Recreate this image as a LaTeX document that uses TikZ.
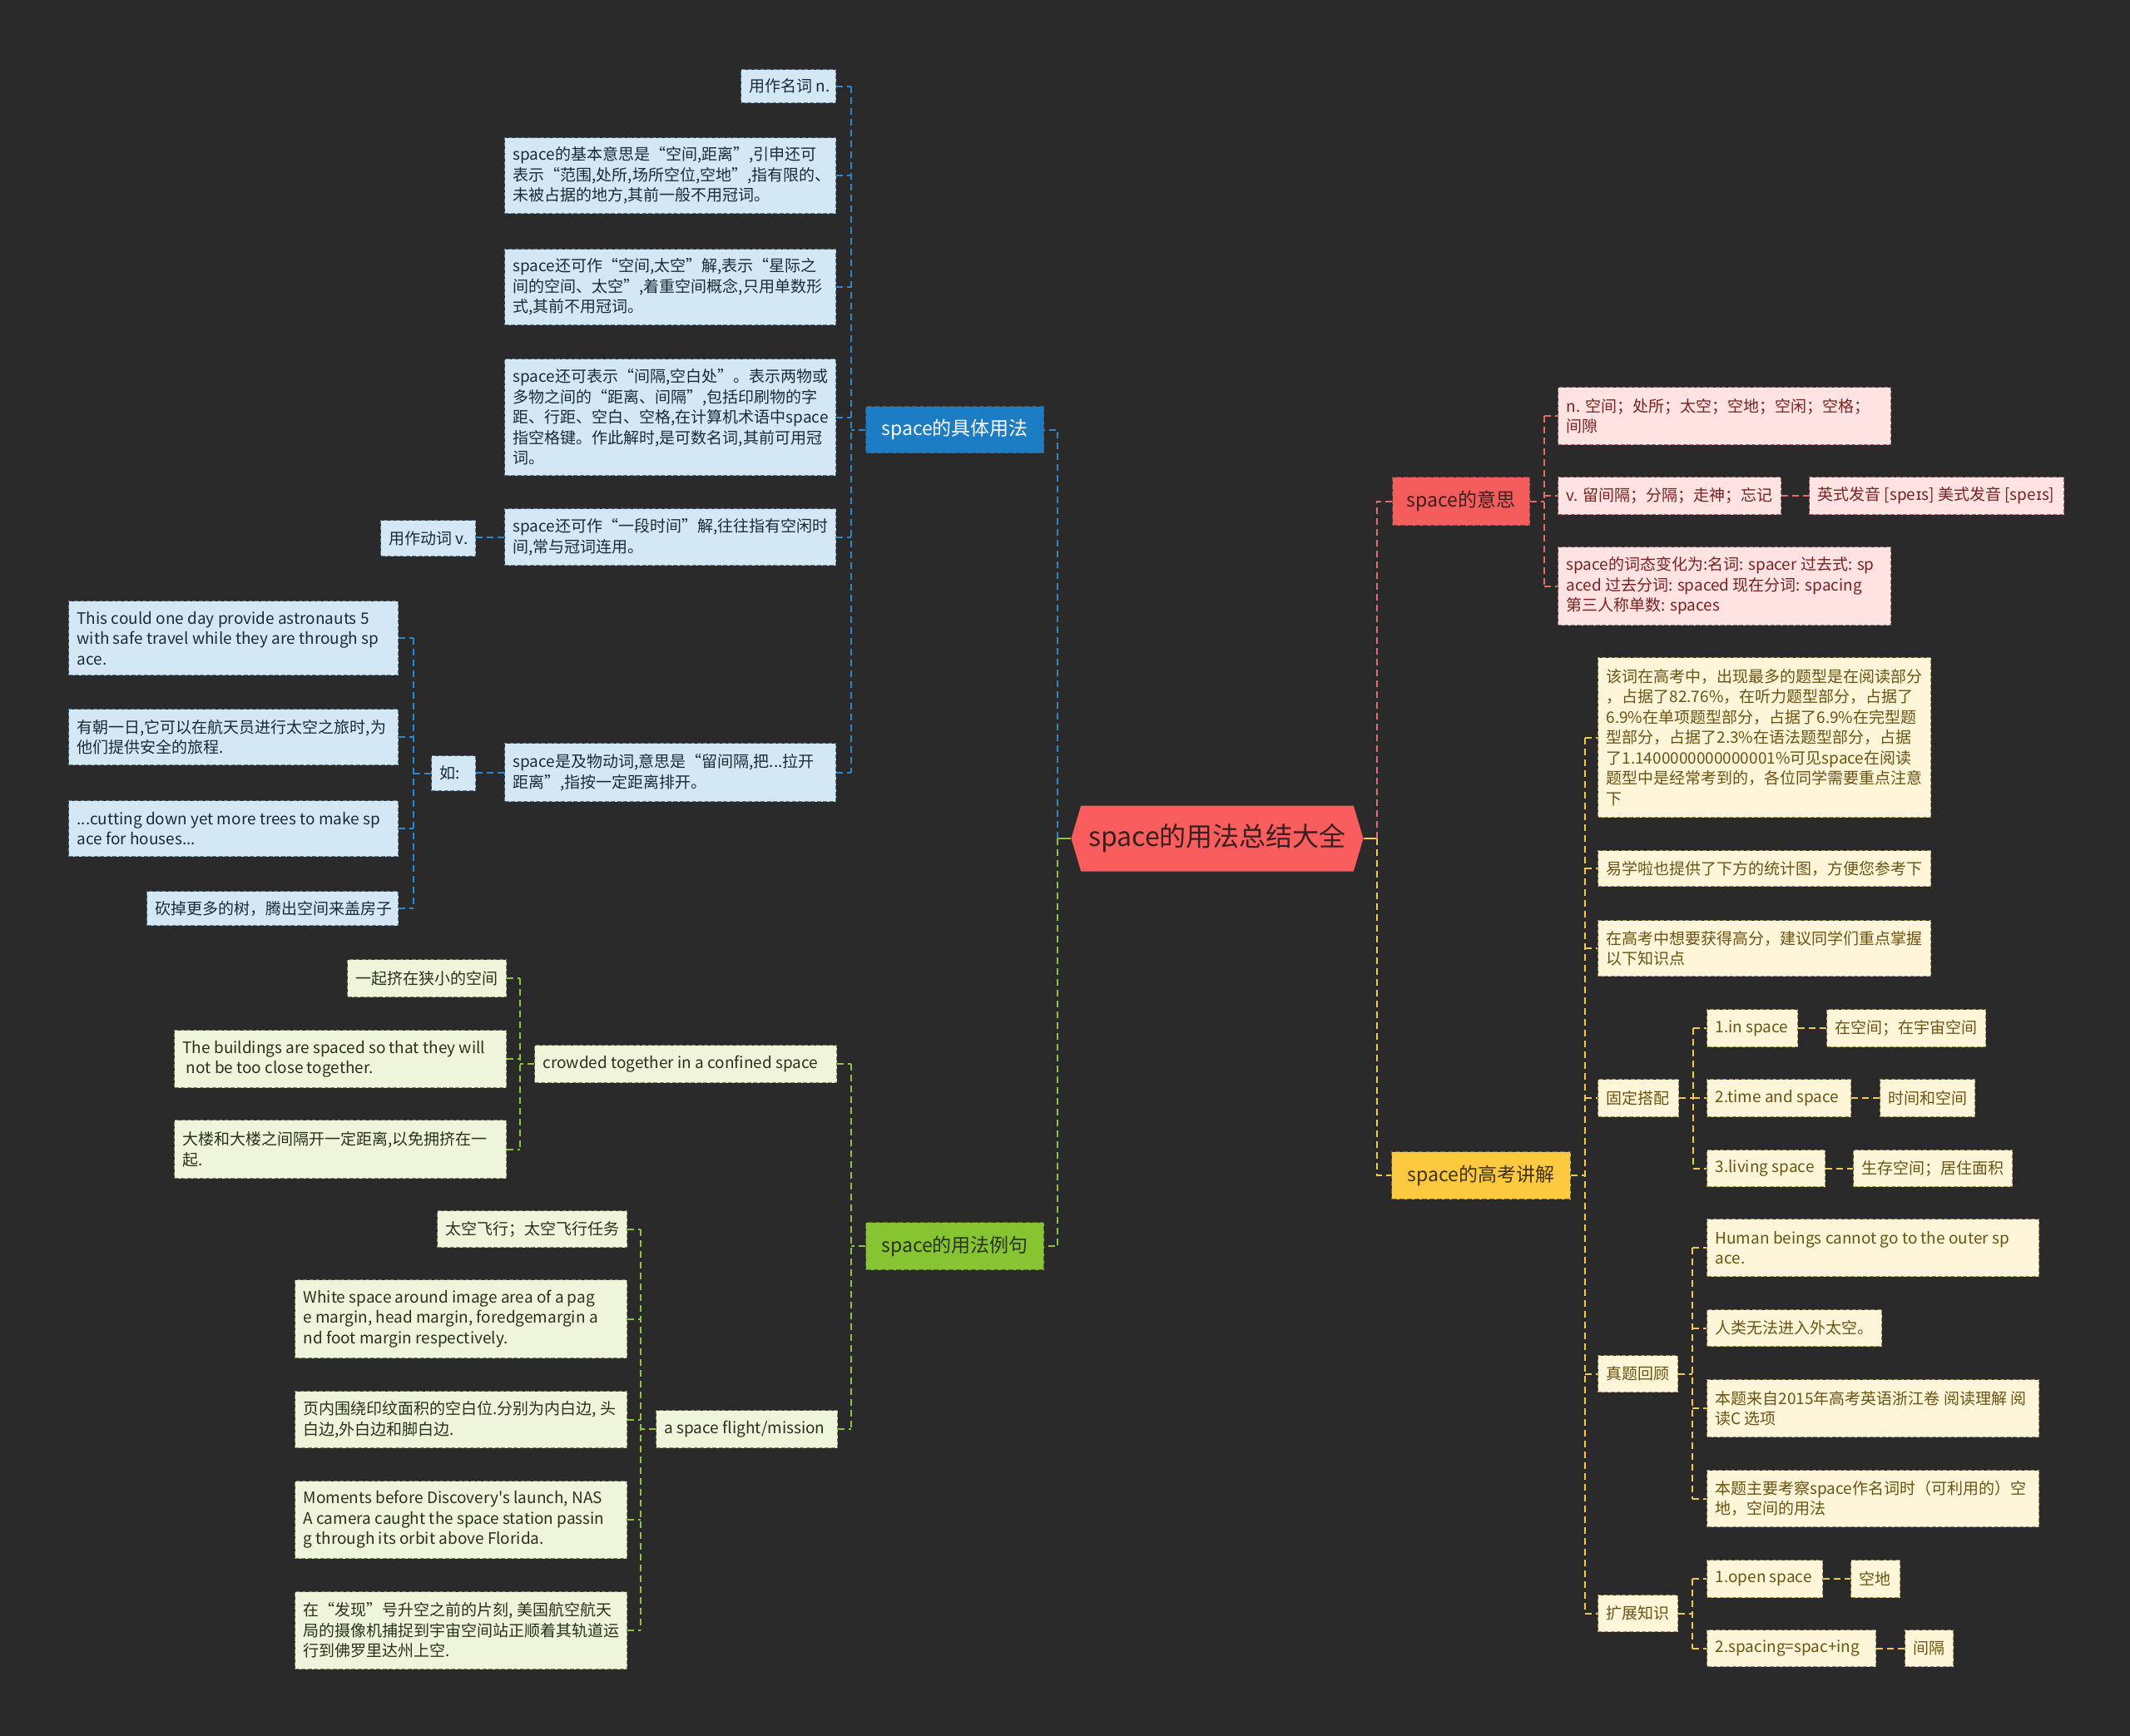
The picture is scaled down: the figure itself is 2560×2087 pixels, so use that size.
\documentclass[tikz,border=0pt]{standalone}
\usepackage{fontspec}
\setmainfont{Noto Sans CJK SC}
\newfontfamily\ipafont{DejaVu Sans}
\usetikzlibrary{shapes.symbols, calc}
\definecolor{mapBg}{HTML}{2A2A2A}
\definecolor{rootF}{HTML}{F95D5D}
\definecolor{rootT}{HTML}{3A1F1F}
\definecolor{blueM}{HTML}{1C7CC4}
\definecolor{blueL}{HTML}{D4E7F4}
\definecolor{blueS}{HTML}{5A7E96}
\definecolor{blueT}{HTML}{1C2A36}
\definecolor{blueC}{HTML}{2B88CC}
\definecolor{greenM}{HTML}{86C431}
\definecolor{greenL}{HTML}{EEF5DB}
\definecolor{greenS}{HTML}{7A8960}
\definecolor{greenT}{HTML}{28321C}
\definecolor{greenC}{HTML}{8CC63F}
\definecolor{redM}{HTML}{F55C5C}
\definecolor{redL}{HTML}{FFE2E2}
\definecolor{redS}{HTML}{A06A6A}
\definecolor{redT}{HTML}{7A2222}
\definecolor{redC}{HTML}{E56B6B}
\definecolor{yelM}{HTML}{FDC93F}
\definecolor{yelL}{HTML}{FFF6DA}
\definecolor{yelS}{HTML}{A08C55}
\definecolor{yelT}{HTML}{6B5313}
\definecolor{yelC}{HTML}{F3C94A}
\tikzset{
  rootbox/.style={signal, signal to=west and east, signal pointer angle=147,
    fill=rootF, text=rootT, font=\fontsize{32}{38}\selectfont,
    minimum width=351, minimum height=79, inner sep=4pt},
  mainbox/.style={anchor=north west, align=center, inner sep=10pt,
    line width=1.4pt, dash pattern=on 6pt off 3pt,
    font=\fontsize{23}{28}\selectfont},
  leafbox/.style={anchor=north west, align=flush left, inner ysep=9pt,
    inner xsep=0pt, line width=1.2pt, dash pattern=on 5pt off 2.5pt,
    font=\fontsize{19}{24.5}\selectfont,
    execute at begin node={\leftskip=10pt\rightskip=-20pt plus 1fil\relax}},
  wh/.style 2 args={minimum width=#1, minimum height=#2},
  lw/.style 2 args={minimum width=#1, minimum height=#2, text width=#1},
  bmain/.style={mainbox, fill=blueM, draw=blueS!70!black, text=white},
  gmain/.style={mainbox, fill=greenM, draw=greenS!70!black, text=greenT},
  rmain/.style={mainbox, fill=redM, draw=redS!70!black, text=rootT},
  ymain/.style={mainbox, fill=yelM, draw=yelS!70!black, text=yelT!60!black},
  bleaf/.style={leafbox, fill=blueL, draw=blueS, text=blueT},
  gleaf/.style={leafbox, fill=greenL, draw=greenS, text=greenT},
  rleaf/.style={leafbox, fill=redL, draw=redS, text=redT},
  yleaf/.style={leafbox, fill=yelL, draw=yelS, text=yelT},
  link/.style={line width=2pt, dash pattern=on 8pt off 5pt},
  bline/.style={link, draw=blueC},
  gline/.style={link, draw=greenC},
  rline/.style={link, draw=redC},
  yline/.style={link, draw=yelC},
}

\begin{document}
\begin{tikzpicture}[x=1pt, y=-1pt]
  \fill[mapBg] (0,0) rectangle (2560,2087);
  \useasboundingbox (0,0) rectangle (2560,2087);

  % ---- Root --------------------------------------------------------------
  \node[rootbox] (root) at (1463,1008) {space的用法总结大全};
  \coordinate (lbus) at ($(root.west)+(-16,0)$);
  \coordinate (rbus) at ($(root.east)+(16,0)$);

  % ---- space的具体用法 ----------------------------------------------------
  \node[bmain, wh={214}{56}] (use) at (1040,488) {space的具体用法};
  \node[bleaf, lw={114}{40}] (u1) at (890,83) {用作名词 n.};
  \node[bleaf, lw={398}{91}] (u2) at (606,165)
    {space的基本意思是“空间,距离”,引申还可\\表示“范围,处所,场所空位,空地”,指有限的、\\未被占据的地方,其前一般不用冠词。};
  \node[bleaf, lw={398}{91}] (u3) at (606,299)
    {space还可作“空间,太空”解,表示“星际之\\间的空间、太空”,着重空间概念,只用单数形\\式,其前不用冠词。};
  \node[bleaf, lw={398}{140}] (u4) at (606,431)
    {space还可表示“间隔,空白处”。表示两物或\\多物之间的“距离、间隔”,包括印刷物的字\\距、行距、空白、空格,在计算机术语中space\\指空格键。作此解时,是可数名词,其前可用冠\\词。};
  \node[bleaf, lw={398}{68}] (u5) at (606,611)
    {space还可作“一段时间”解,往往指有空闲时\\间,常与冠词连用。};
  \node[bleaf, lw={398}{70}] (u6) at (606,893)
    {space是及物动词,意思是“留间隔,把...拉开\\距离”,指按一定距离排开。};
  \node[bleaf, lw={114}{43}] (uv) at (457,625) {用作动词 v.};
  \node[bleaf, lw={53}{42}]  (ur) at (518,908) {如:};
  \node[bleaf, lw={396}{89}] (ur1) at (82,722)
    {This could one day provide astronauts 5\\with safe travel while they are through sp\\ace.};
  \node[bleaf, lw={396}{67}] (ur2) at (82,852)
    {有朝一日,它可以在航天员进行太空之旅时,为\\他们提供安全的旅程.};
  \node[bleaf, lw={396}{67}] (ur3) at (82,962)
    {...cutting down yet more trees to make sp\\ace for houses...};
  \node[bleaf, lw={302}{41}] (ur4) at (176,1071) {砍掉更多的树，腾出空间来盖房子};

  \coordinate (ubus) at ($(use.west)+(-17,0)$);
  \coordinate (rbus2) at ($(ur.west)+(-21,0)$);
  \draw[bline] (use.west) -- (ubus);
  \draw[bline] (ubus |- u1.east) -- (ubus |- u6.east);
  \draw[bline] (u1.east) -- (ubus |- u1.east);
  \draw[bline] (u2.east) -- (ubus |- u2.east);
  \draw[bline] (u3.east) -- (ubus |- u3.east);
  \draw[bline] (u4.east) -- (ubus |- u4.east);
  \draw[bline] (u5.east) -- (ubus |- u5.east);
  \draw[bline] (u6.east) -- (ubus |- u6.east);
  \draw[bline] (u5.west) -- (u5.west -| uv.east);
  \draw[bline] (u6.west) -- (u6.west -| ur.east);
  \draw[bline] (ur.west) -- (rbus2);
  \draw[bline] (rbus2 |- ur1.east) -- (rbus2 |- ur4.east);
  \draw[bline] (ur1.east) -- (rbus2 |- ur1.east);
  \draw[bline] (ur2.east) -- (rbus2 |- ur2.east);
  \draw[bline] (ur3.east) -- (rbus2 |- ur3.east);
  \draw[bline] (ur4.east) -- (rbus2 |- ur4.east);

  % ---- space的用法例句 ----------------------------------------------------
  \node[gmain, wh={214}{57}] (ex) at (1040,1469) {space的用法例句};
  \node[gleaf, lw={363}{45}] (e1) at (642,1256) {crowded together in a confined space};
  \node[gleaf, lw={191}{45}] (e11) at (417,1153) {一起挤在狭小的空间};
  \node[gleaf, lw={399}{69}] (e12) at (209,1238)
    {The buildings are spaced so that they will\\\ not be too close together.};
  \node[gleaf, lw={399}{70}] (e13) at (209,1346)
    {大楼和大楼之间隔开一定距离,以免拥挤在一\\起.};
  \node[gleaf, lw={218}{45}] (e2) at (788,1695) {a space flight/mission};
  \node[gleaf, lw={228}{44}] (e21) at (525,1455) {太空飞行；太空飞行任务};
  \node[gleaf, lw={399}{94}] (e22) at (354,1538)
    {White space around image area of a pag\\e margin, head margin, foredgemargin a\\nd foot margin respectively.};
  \node[gleaf, lw={399}{68}] (e23) at (354,1672)
    {页内围绕印纹面积的空白位.分别为内白边, 头\\白边,外白边和脚白边.};
  \node[gleaf, lw={399}{93}] (e24) at (354,1780)
    {Moments before Discovery\textquotesingle s launch, NAS\\A camera caught the space station passin\\g through its orbit above Florida.};
  \node[gleaf, lw={399}{93}] (e25) at (354,1913)
    {在“发现”号升空之前的片刻, 美国航空航天\\局的摄像机捕捉到宇宙空间站正顺着其轨道运\\行到佛罗里达州上空.};

  \coordinate (gbus) at ($(ex.west)+(-17,0)$);
  \coordinate (gbus1) at ($(e1.west)+(-17,0)$);
  \coordinate (gbus2) at ($(e2.west)+(-18,0)$);
  \draw[gline] (ex.west) -- (gbus);
  \draw[gline] (gbus |- e1.east) -- (gbus |- e2.east);
  \draw[gline] (e1.east) -- (gbus |- e1.east);
  \draw[gline] (e2.east) -- (gbus |- e2.east);
  \draw[gline] (e1.west) -- (gbus1);
  \draw[gline] (gbus1 |- e11.east) -- (gbus1 |- e13.east);
  \draw[gline] (e11.east) -- (gbus1 |- e11.east);
  \draw[gline] (e12.east) -- (gbus1 |- e12.east);
  \draw[gline] (e13.east) -- (gbus1 |- e13.east);
  \draw[gline] (e2.west) -- (gbus2);
  \draw[gline] (gbus2 |- e21.east) -- (gbus2 |- e25.east);
  \draw[gline] (e21.east) -- (gbus2 |- e21.east);
  \draw[gline] (e22.east) -- (gbus2 |- e22.east);
  \draw[gline] (e23.east) -- (gbus2 |- e23.east);
  \draw[gline] (e24.east) -- (gbus2 |- e24.east);
  \draw[gline] (e25.east) -- (gbus2 |- e25.east);

  % ---- space的意思 --------------------------------------------------------
  \node[rmain, wh={165}{58}] (mean) at (1673,573) {space的意思};
  \node[rleaf, lw={400}{69}] (m1) at (1872,465)
    {n. 空间；处所；太空；空地；空闲；空格；\\间隙};
  \node[rleaf, lw={268}{45}] (m2) at (1872,573) {v. 留间隔；分隔；走神；忘记};
  \node[rleaf, lw={306}{45}] (m21) at (2174,573)
    {英式发音 [spe{\ipafont ɪ}s] 美式发音 [spe{\ipafont ɪ}s]};
  \node[rleaf, lw={400}{94}] (m3) at (1872,657)
    {space的词态变化为:名词: spacer 过去式: sp\\aced 过去分词: spaced 现在分词: spacing\\第三人称单数: spaces};

  \coordinate (mbus) at ($(mean.east)+(17,0)$);
  \draw[rline] (mean.east) -- (mbus);
  \draw[rline] (mbus |- m1.west) -- (mbus |- m3.west);
  \draw[rline] (mbus |- m1.west) -- (m1.west);
  \draw[rline] (mbus |- m2.west) -- (m2.west);
  \draw[rline] (mbus |- m3.west) -- (m3.west);
  \draw[rline] (m2.east) -- (m21.west);

  % ---- space的高考讲解 ----------------------------------------------------
  \node[ymain, wh={215}{57}] (exam) at (1672,1384) {space的高考讲解};
  \node[yleaf, lw={400}{192}] (k1) at (1920,790)
    {该词在高考中，出现最多的题型是在阅读部分\\，占据了82.76\%，在听力题型部分，占据了\\6.9\%在单项题型部分，占据了6.9\%在完型题\\型部分，占据了2.3\%在语法题型部分，占据\\了1.1400000000000001\%可见space在阅读\\题型中是经常考到的，各位同学需要重点注意\\下};
  \node[yleaf, lw={400}{43}] (k2) at (1920,1022) {易学啦也提供了下方的统计图，方便您参考下};
  \node[yleaf, lw={400}{67}] (k3) at (1920,1106)
    {在高考中想要获得高分，建议同学们重点掌握\\以下知识点};
  \node[yleaf, lw={97}{45}]  (kfix) at (1920,1297) {固定搭配};
  \node[yleaf, lw={109}{45}] (kf1) at (2051,1213) {1.in space};
  \node[yleaf, lw={191}{45}] (kf1a) at (2195,1213) {在空间；在宇宙空间};
  \node[yleaf, lw={173}{45}] (kf2) at (2051,1297) {2.time and space};
  \node[yleaf, lw={114}{45}] (kf2a) at (2259,1297) {时间和空间};
  \node[yleaf, lw={142}{44}] (kf3) at (2051,1382) {3.living space};
  \node[yleaf, lw={191}{44}] (kf3a) at (2227,1382) {生存空间；居住面积};
  \node[yleaf, lw={96}{44}]  (kreal) at (1920,1629) {真题回顾};
  \node[yleaf, lw={399}{69}] (kr1) at (2051,1465)
    {Human beings cannot go to the outer sp\\ace.};
  \node[yleaf, lw={210}{44}] (kr2) at (2051,1574) {人类无法进入外太空。};
  \node[yleaf, lw={399}{69}] (kr3) at (2051,1658)
    {本题来自2015年高考英语浙江卷 阅读理解 阅\\读C 选项};
  \node[yleaf, lw={399}{68}] (kr4) at (2051,1767)
    {本题主要考察space作名词时（可利用的）空\\地，空间的用法};
  \node[yleaf, lw={96}{44}]  (kext) at (1920,1917) {扩展知识};
  \node[yleaf, lw={139}{45}] (kx1) at (2051,1875) {1.open space};
  \node[yleaf, lw={59}{45}]  (kx1a) at (2224,1875) {空地};
  \node[yleaf, lw={203}{44}] (kx2) at (2051,1959) {2.spacing=spac+ing};
  \node[yleaf, lw={58}{44}]  (kx2a) at (2289,1959) {间隔};

  \coordinate (ybus) at ($(exam.east)+(17,0)$);
  \coordinate (ybus1) at ($(kfix.east)+(17,0)$);
  \coordinate (ybus2) at ($(kreal.east)+(17,0)$);
  \coordinate (ybus3) at ($(kext.east)+(17,0)$);
  \draw[yline] (exam.east) -- (ybus);
  \draw[yline] (ybus |- k1.west) -- (ybus |- kext.west);
  \draw[yline] (ybus |- k1.west) -- (k1.west);
  \draw[yline] (ybus |- k2.west) -- (k2.west);
  \draw[yline] (ybus |- k3.west) -- (k3.west);
  \draw[yline] (ybus |- kfix.west) -- (kfix.west);
  \draw[yline] (ybus |- kreal.west) -- (kreal.west);
  \draw[yline] (ybus |- kext.west) -- (kext.west);
  \draw[yline] (kfix.east) -- (ybus1);
  \draw[yline] (ybus1 |- kf1.west) -- (ybus1 |- kf3.west);
  \draw[yline] (ybus1 |- kf1.west) -- (kf1.west);
  \draw[yline] (ybus1 |- kf2.west) -- (kf2.west);
  \draw[yline] (ybus1 |- kf3.west) -- (kf3.west);
  \draw[yline] (kf1.east) -- (kf1a.west);
  \draw[yline] (kf2.east) -- (kf2a.west);
  \draw[yline] (kf3.east) -- (kf3a.west);
  \draw[yline] (kreal.east) -- (ybus2);
  \draw[yline] (ybus2 |- kr1.west) -- (ybus2 |- kr4.west);
  \draw[yline] (ybus2 |- kr1.west) -- (kr1.west);
  \draw[yline] (ybus2 |- kr2.west) -- (kr2.west);
  \draw[yline] (ybus2 |- kr3.west) -- (kr3.west);
  \draw[yline] (ybus2 |- kr4.west) -- (kr4.west);
  \draw[yline] (kext.east) -- (ybus3);
  \draw[yline] (ybus3 |- kx1.west) -- (ybus3 |- kx2.west);
  \draw[yline] (ybus3 |- kx1.west) -- (kx1.west);
  \draw[yline] (ybus3 |- kx2.west) -- (kx2.west);
  \draw[yline] (kx1.east) -- (kx1a.west);
  \draw[yline] (kx2.east) -- (kx2a.west);

  % ---- root to main topics -----------------------------------------------
  \draw[gline, solid] (root.west) -- (lbus);
  \draw[bline] (lbus) |- (use.east);
  \draw[gline] (lbus) |- (ex.east);
  \draw[yline, solid] (root.east) -- (rbus);
  \draw[rline] (rbus) |- (mean.west);
  \draw[yline] (rbus) |- (exam.west);

\end{tikzpicture}
\end{document}
